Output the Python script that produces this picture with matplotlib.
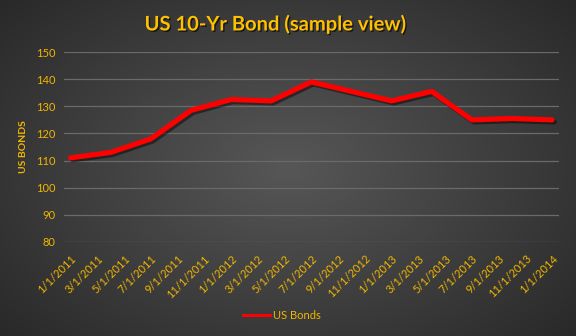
import matplotlib
matplotlib.use("Agg")
import matplotlib.pyplot as plt
import matplotlib.patheffects as pe
from matplotlib.lines import Line2D
import numpy as np

plt.rcParams['font.family'] = ['Lato', 'DejaVu Sans']

# ---- data: quarterly US 10-yr bond readings ----
dates = ['1/1/2011', '4/1/2011', '7/1/2011', '10/1/2011',
         '1/1/2012', '4/1/2012', '7/1/2012', '10/1/2012',
         '1/1/2013', '4/1/2013', '7/1/2013', '10/1/2013', '1/1/2014']
bonds = [111, 113, 118, 128.5, 132.5, 132, 139, 135.5, 132, 135.5, 125, 125.5, 125]

# axis labels every two months
tick_dates = ['1/1/2011', '3/1/2011', '5/1/2011', '7/1/2011', '9/1/2011', '11/1/2011',
              '1/1/2012', '3/1/2012', '5/1/2012', '7/1/2012', '9/1/2012', '11/1/2012',
              '1/1/2013', '3/1/2013', '5/1/2013', '7/1/2013', '9/1/2013', '11/1/2013',
              '1/1/2014']
y_ticks = [80, 90, 100, 110, 120, 130, 140, 150]


def month_index(s):
    m, d, y = [int(v) for v in s.split('/')]
    return (y - 2011) * 12 + (m - 1)


x = [month_index(d) for d in dates]
xt = [month_index(d) for d in tick_dates]

gold = '#F2B600'
title_gold = '#FFC000'

fig = plt.figure(figsize=(5.76, 3.36), dpi=100)

# radial gradient background
bg = fig.add_axes([0, 0, 1, 1], zorder=-10)
gx, gy = np.meshgrid(np.linspace(-1, 1, 576), np.linspace(-1, 1, 336))
r = np.sqrt(gx ** 2 + (gy * 0.9) ** 2) / np.sqrt(1 + 0.81)
shade = 0.34 - 0.18 * r
bg.imshow(np.dstack([shade] * 3), aspect='auto', extent=[0, 1, 0, 1])
bg.axis('off')

ax = fig.add_axes([0.111, 0.280, 0.859, 0.565])
ax.set_facecolor('none')

ax.plot(x, bonds, color='#FF0000', linewidth=3.7, solid_capstyle='round',
        solid_joinstyle='round',
        path_effects=[pe.SimpleLineShadow(offset=(1.5, -1.5), shadow_color='black', alpha=0.45),
                      pe.Normal()])

ax.set_xlim(-0.5, 36.5)
ax.set_ylim(80, 150)
ax.set_yticks(y_ticks)
ax.set_xticks(xt)
ax.set_xticklabels(tick_dates, rotation=45, ha='right', rotation_mode='anchor')
ax.grid(axis='y', color='#6a6a6a', linewidth=0.9)
ax.set_axisbelow(True)
for s in ax.spines.values():
    s.set_visible(False)
ax.tick_params(axis='both', length=0, colors=gold, labelsize=8)
ax.tick_params(axis='x', pad=8)
ax.tick_params(axis='y', pad=6)

ax.set_ylabel('US BONDS', color=gold, fontsize=7.5, fontweight='bold', labelpad=6)

fig.text(0.478, 0.928, 'US 10-Yr Bond (sample view)', ha='center', va='center',
         color=title_gold, fontsize=14.5, fontweight='bold',
         path_effects=[pe.withSimplePatchShadow(offset=(1, -1), shadow_rgbFace='black', alpha=0.6)])

# thinner sample line in the legend than on the chart
key = Line2D([], [], color='#FF0000', linewidth=2.2)
leg = fig.legend(handles=[key], labels=['US Bonds'], loc='center',
                 bbox_to_anchor=(0.49, 0.06), frameon=False,
                 fontsize=8, handlelength=2.4, handletextpad=0.3)
for t in leg.get_texts():
    t.set_color(gold)

fig.savefig('out.png', dpi=100)
